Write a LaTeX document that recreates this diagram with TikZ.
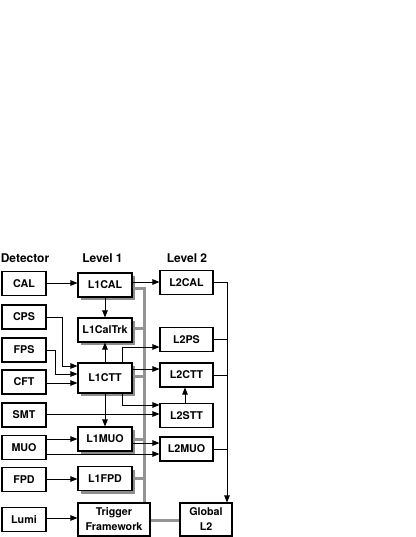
\documentclass[tikz,border=0pt]{standalone}
\usepackage{fontspec}
\setmainfont{TeX Gyre Heros}
\usetikzlibrary{arrows.meta,shadows}
\begin{document}
\begin{tikzpicture}[x=1pt,y=-1pt,
  box/.style={draw, line width=1.1pt, fill=white, inner sep=0pt, align=center,
    font=\bfseries\fontsize{10.7}{15}\selectfont},
  det/.style={box, minimum width=44pt, minimum height=24pt},
  lone/.style={box, minimum width=54pt, minimum height=24pt,
    drop shadow={shadow xshift=3pt, shadow yshift=-3pt, fill=black!45, opacity=1}},
  ltwo/.style={box, minimum width=53pt, minimum height=24pt},
  head/.style={font=\bfseries\fontsize{12}{14}\selectfont, inner sep=0pt},
  conn/.style={line width=0.9pt, -{Triangle[length=7pt,width=5.5pt]}},
  wire/.style={line width=0.9pt},
  bus/.style={line width=3pt, draw=black!42}]
\useasboundingbox (0,0) rectangle (415,537);
\fill[white] (0,0) rectangle (415,537);

% headings
\node[head] (hdet) at (25,258) {Detector};
\node[head] (hl1) at (102.5,258) {Level 1};
\node[head] (hl2) at (187,258) {Level 2};

% detector column
\node[det] (CAL) at (24,283.5) {CAL};
\node[det] (CPS) at (24,317) {CPS};
\node[det] (FPS) at (24,350) {FPS};
\node[det] (CFT) at (24,382) {CFT};
\node[det] (SMT) at (24,415) {SMT};
\node[det] (MUO) at (24,447.5) {MUO};
\node[det] (FPD) at (24,479.5) {FPD};
\node[det] (Lumi) at (24,519.5) {Lumi};

% level 1 column
\node[lone] (L1CAL) at (105,285) {L1CAL};
\node[lone] (L1CalTrk) at (105,330) {L1CalTrk};
\node[lone, minimum height=30pt] (L1CTT) at (105,378) {L1CTT};
\node[lone] (L1MUO) at (105,439) {L1MUO};
\node[lone] (L1FPD) at (105,478.5) {L1FPD};
\node[box, minimum width=72pt, minimum height=33pt] (TF) at (114,519.5) {Trigger\\Framework};

% level 2 column
\node[ltwo] (L2CAL) at (186.5,282.5) {L2CAL};
\node[ltwo] (L2PS) at (186.5,339.5) {L2PS};
\node[ltwo] (L2CTT) at (186.5,375) {L2CTT};
\node[ltwo] (L2STT) at (186.5,415.5) {L2STT};
\node[ltwo] (L2MUO) at (186.5,449) {L2MUO};
\node[box, minimum width=52pt, minimum height=33pt] (GL2) at (206,519.5) {Global\\L2};

% gray bus
\draw[bus] (L1CAL.east |- 0,288) -| (TF.north -| 144,0);
\draw[bus] (L1CalTrk.east |- 0,328) -- (144,328);
\draw[bus] (L1CTT.east |- 0,376) -- (144,376);
\draw[bus] (L1MUO.east |- 0,439) -- (144,439);
\draw[bus] (L1FPD.east |- 0,478) -- (144,478);
\draw[bus] (TF.east |- 0,520) -- (GL2.west |- 0,520);

% detector to level 1
\draw[conn] (CAL.east |- 0,283) -- (L1CAL.west |- 0,283);
\draw[conn] (CPS.east) -| (62,366) -- (L1CTT.west |- 0,366);
\draw[conn] (FPS.east) -| (55,374) -- (L1CTT.west |- 0,374);
\draw[conn] (CFT.east |- 0,383) -- (L1CTT.west |- 0,383);
\draw[conn] (MUO.east |- 0,439) -- (L1MUO.west |- 0,439);
\draw[conn] (FPD.east |- 0,479) -- (L1FPD.west |- 0,479);
\draw[conn] (Lumi.east |- 0,518) -- (TF.west |- 0,518);

% detector to level 2
\draw[conn] (SMT.east |- 0,414) -- (L2STT.west |- 0,414);
\draw[conn] (MUO.east |- 0,454) -- (L2MUO.west |- 0,454);

% within level 1
\draw[conn] (L1CAL.south) -- (L1CalTrk.north);
\draw[conn] (L1CTT.north) -- (L1CalTrk.south);
\draw[conn] (L1CTT.south) -- (L1MUO.north);

% level 1 to level 2
\draw[conn] (L1CAL.east |- 0,282) -- (L2CAL.west |- 0,282);
\draw[conn] (L1CTT.north -| 122,0) |- (L2PS.west |- 0,347);
\draw[conn] (L1CTT.east |- 0,369) -- (L2CTT.west |- 0,369);
\draw[conn] (L1CTT.south -| 122,0) |- (L2STT.west |- 0,405);
\draw[conn] (L1MUO.east |- 0,443) -- (L2MUO.west |- 0,443);

% within level 2
\draw[conn] (L2STT.north -| 185,0) -- (L2CTT.south -| 185,0);

% level 2 to global L2
\coordinate (gtop) at (227,282);
\draw[wire] (L2CAL.east |- gtop) -- (gtop);
\draw[wire] (L2PS.east) -- (L2PS.east -| gtop);
\draw[wire] (L2CTT.east) -- (L2CTT.east -| gtop);
\draw[wire] (L2MUO.east) -- (L2MUO.east -| gtop);
\draw[conn] (gtop) -- (GL2.north -| gtop);
\end{tikzpicture}
\end{document}
